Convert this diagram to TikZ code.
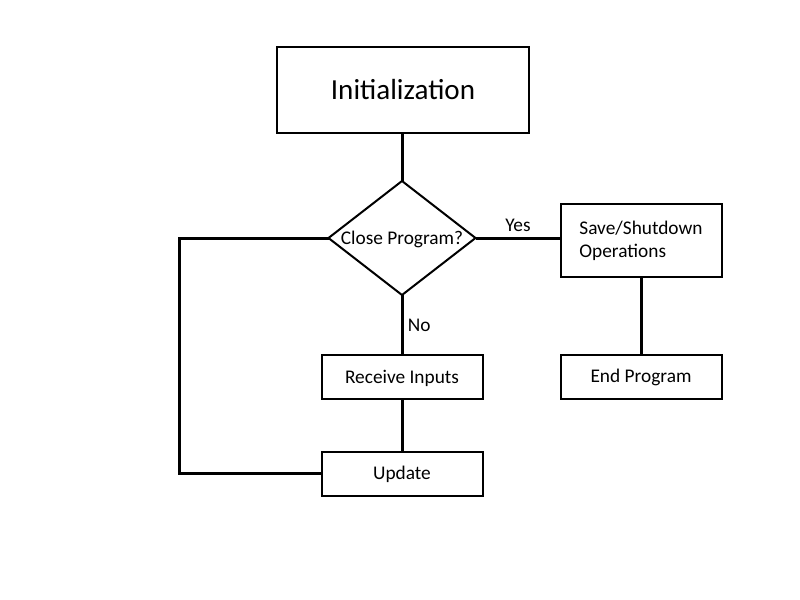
\documentclass[tikz,border=0pt]{standalone}
\usepackage{fontspec}
\setmainfont{Carlito}
\usetikzlibrary{shapes.geometric}

\tikzset{
  stepbox/.style={draw, line width=1.5pt, outer sep=0pt, minimum width=120.75pt, minimum height=33pt, inner sep=0pt, text height=9.3pt, text depth=0pt, font=\fontsize{14.5}{17.25}\selectfont},
  decision/.style={draw, diamond, line width=1.5pt, outer sep=0pt, minimum width=110.25pt, minimum height=85.5pt, inner sep=0pt, aspect=1.29, text height=9.3pt, text depth=0pt, font=\fontsize{14.5}{17.25}\selectfont},
  link/.style={line width=2.25pt},
  tag/.style={font=\fontsize{14.5}{17.25}\selectfont}
}

\begin{document}
\begin{tikzpicture}[x=0.75pt,y=-0.75pt]
\useasboundingbox (0,0) rectangle (800,600);
% boxes
\node[stepbox, minimum width=189pt, minimum height=64.5pt, text height=14pt, font=\fontsize{21.8}{26}\selectfont] (init) at (403,90) {Initialization};
\node[decision] (close) at (402,238) {Close Program?};
\node[stepbox, minimum height=54.75pt, text height={}, text depth={}, align=left] (save) at (641,240.5) {Save/Shutdown\\Operations};
\node[stepbox] (endp) at (641,376.5) {End Program};
\node[stepbox] (recv) at (402,377) {Receive Inputs};
\node[stepbox] (upd) at (402,473.5) {Update};
\coordinate (loop) at (179,473.5);
% connectors
\draw[link] (close.north) -- (close.north |- init.south);
\draw[link] (close.east) -- (close.east -| save.west) node[tag, midway, above] {Yes};
\draw[link] (close.south) -- (recv.north) node[tag, midway, right] {No};
\draw[link] (recv.south) -- (upd.north);
\draw[link] (save.south) -- (endp.north);
\draw[link] (upd.west) -- (loop) |- (close.west);
\end{tikzpicture}
\end{document}
